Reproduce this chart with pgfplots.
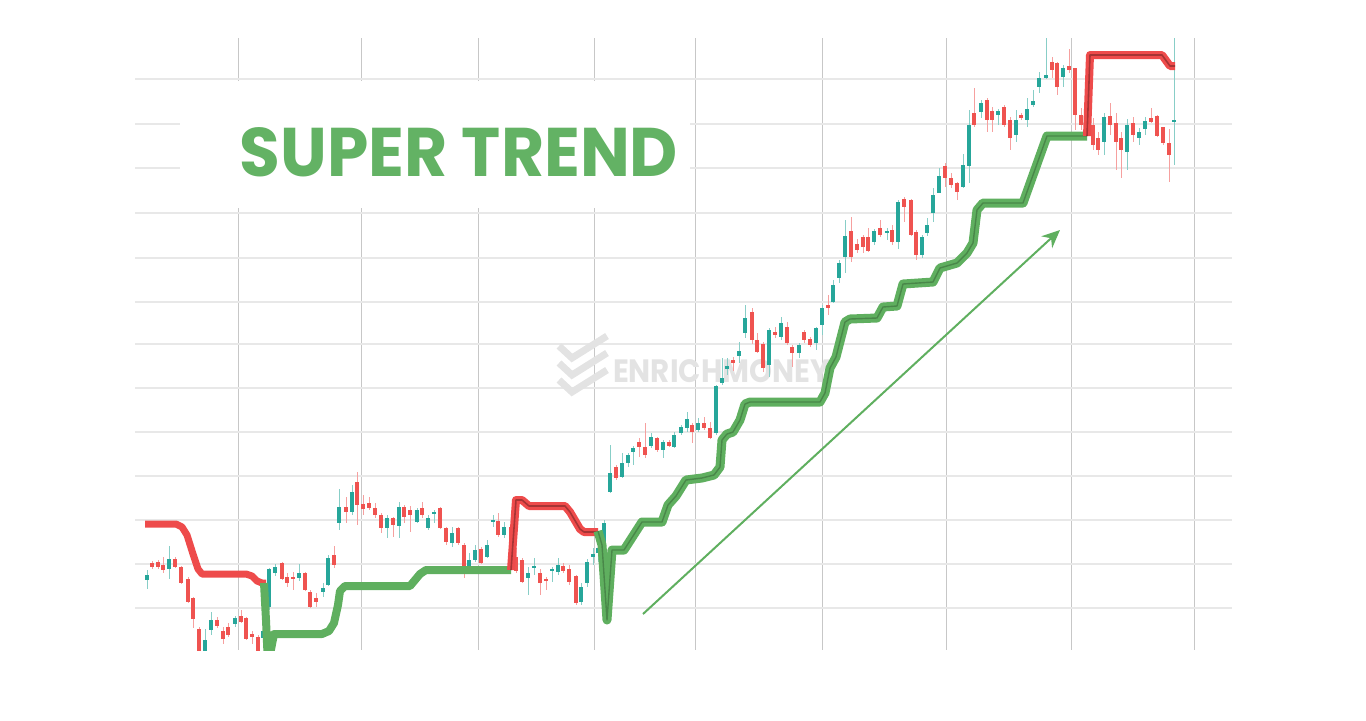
\documentclass[border=0pt]{standalone}
\usepackage{pgfplots}
\pgfplotsset{compat=1.18}
\usepackage{pgfplotstable}
\usepackage{graphicx}
\usepackage{fontspec}
\setmainfont{Poppins}
\usetikzlibrary{arrows.meta}
\definecolor{candleG}{HTML}{26A69A}
\definecolor{candleR}{HTML}{EF5350}
\definecolor{stRed}{HTML}{EE4B4B}
\definecolor{stGreen}{HTML}{5FAF5F}
\definecolor{titleG}{HTML}{63B264}

% x, body top, body bottom, wick top, wick bottom (pixel rows, top = high price)
\pgfplotstableread{
x bt bb wt wb
147 575 580 570 589
169 559 569 546 579
205 640 652 629 655
211 620 630 612 635
235 618 624 616 627
263 631 638 627 640
269 569 607 568 610
275 567 573 564 576
299 573 578 564 581
323 588 592 583 597
328 558 585 555 586
339 507 523 489 530
352 492 512 485 515
387 518 528 515 538
399 507 526 502 538
417 510 522 508 523
428 518 528 515 530
434 512 514 510 523
452 533 543 527 547
469 560 566 553 567
475 550 560 545 562
487 545 557 540 558
493 520 522 515 527
504 527 535 522 538
528 573 578 567 595
534 566 568 558 575
552 569 571 567 582
558 565 572 558 575
581 587 602 583 605
587 562 583 559 587
593 554 557 548 565
598 548 553 540 562
604 523 555 520 557
610 473 492 445 493
622 463 477 453 478
628 455 463 453 467
633 448 452 446 465
651 437 446 433 448
663 442 450 440 458
674 435 447 432 448
681 427 433 425 435
687 419 428 412 432
698 423 430 418 432
716 386 433 385 435
722 378 383 358 385
727 366 369 358 375
739 351 356 342 363
745 318 333 305 338
769 330 365 328 377
781 323 337 317 340
799 345 353 343 358
816 328 343 327 350
822 308 325 305 335
833 285 302 280 303
839 263 278 260 283
845 236 257 220 273
874 231 242 229 245
887 231 233 228 240
898 202 242 200 249
922 237 255 235 258
927 225 233 218 236
933 195 213 188 222
939 176 193 168 193
963 165 187 154 188
969 125 166 110 183
981 103 112 100 118
998 111 115 109 125
1016 120 135 110 142
1027 109 120 98 127
1033 101 105 90 107
1039 78 87 72 93
1046 75 78 37 79
1063 68 77 65 87
1104 117 142 113 155
1127 125 152 119 170
1139 132 138 128 145
1145 121 129 117 135
1174 120 122 37 165
}\greenC

\pgfplotstableread{
x bt bb wt wb
152 563 567 561 569
158 562 567 560 569
163 565 570 557 573
175 559 567 557 568
181 567 583 566 584
188 579 602 577 603
193 598 619 597 628
199 629 655 627 655
217 620 626 617 628
223 631 639 627 644
228 627 635 623 637
241 616 622 610 623
246 618 639 617 640
252 634 637 631 644
258 637 655 635 655
282 563 579 562 580
287 577 583 573 587
293 577 578.5 572 590
305 573 590 572 591
310 592 607 590 608
316 598 602 593 607
334 555 565 546 568
346 507 512 497 523
357 482 505 472 525
363 504 509 495 515
369 503 508 497 510
375 508 515 503 518
381 515 528 513 533
393 518 525 517 537
404 507 517 505 523
410 510 515 506 532
422 508 515 502 518
440 508 528 507 529
446 528 542 527 545
458 528 543 527 545
464 545 567 543 578
481 549 563 547 564
498 521 535 513 537
511 527 563 525 567
516 557 571 548 573
522 560 582 558 583
540 573 583 569 595
546 579 580.5 577 590
563 566 571 563 573
569 569 582 565 585
576 576 603 575 605
616 467 478 465 480
639 442 447 438 457
645 447 455 423 458
657 438 450 437 452
669 442 446 440 447
692 425 432 423 443
704 423 428 417 430
710 428 438 422 439
733 360 363 357 371
752 312 340 308 344
757 340 352 333 353
763 344 368 342 372
775 332 335 327 338
787 327 343 322 345
792 347 353 345 367
804 332 340 330 343
810 339 345 337 347
828 305 308 295 315
851 231 257 217 262
857 244 250 239 253
863 237 247 235 253
868 237 251 228 252
880 228 235 220 237
892 230 242 225 245
904 199 207 197 222
911 200 235 199 236
916 232 255 230 260
945 166 178 163 187
951 178 185 173 188
957 183 192 182 200
974 113 125 88 127
987 100 120 98 132
992 111 120 107 132
1004 107 125 105 127
1010 120 138 117 150
1021 115 118 113 120
1052 62 70 57 78
1057 63 87 62 95
1069 66 70 49 73
1075 68 115 68 130
1081 115 125 108 130
1087 109 134 107 135
1093 125 145 118 150
1098 138 150 132 155
1110 116 125 103 135
1116 123 142 113 170
1121 138 150 132 178
1133 123 135 117 142
1151 118 122 108 123
1157 116 136 115 137
1163 127 143 127 145
1169 143 155 129 182
}\redC

\begin{document}
\begin{tikzpicture}
\begin{axis}[
  width=548.5pt, height=306pt, scale only axis,
  xmin=135, xmax=1232, ymin=38, ymax=650, y dir=reverse,
  xtick={238,361,478,594,695,822,946,1071,1194},
  ytick={79,124,168,213,258,302,344,388,432,476,520,564,608},
  xticklabels={}, yticklabels={},
  grid=major,
  x grid style={black!22, line width=0.5pt},
  y grid style={black!9, line width=1pt},
  axis line style={draw=none},
  major tick length=0pt,
]
% title panel
\fill[white] (axis cs:180,81) rectangle (axis cs:690,208);
\node[anchor=center, text=titleG, inner sep=0pt] at (axis cs:459,152.5)
  {\resizebox{219pt}{24.5pt}{\bfseries SUPER TREND}};
% watermark
\draw[black!11, line width=3.5pt] (axis cs:559,346) -- (axis cs:572,358) -- (axis cs:607,336);
\draw[black!11, line width=3.5pt] (axis cs:559,363) -- (axis cs:572,375) -- (axis cs:607,353);
\draw[black!11, line width=3.5pt] (axis cs:559,380) -- (axis cs:572,392) -- (axis cs:607,370);
\node[anchor=center, text=black!11, inner sep=0pt] at (axis cs:721.5,371.5)
  {\resizebox{108.5pt}{11.5pt}{\bfseries ENRICHMONEY}};

% wicks
\addplot[draw=none, forget plot, error bars/.cd, y dir=both, y explicit, error mark=none,
  error bar style={draw=candleG!55, line width=0.5pt}]
  table[x=x, y expr={(\thisrow{wt}+\thisrow{wb})/2}, y error expr={(\thisrow{wb}-\thisrow{wt})/2}] {\greenC};
\addplot[draw=none, forget plot, error bars/.cd, y dir=both, y explicit, error mark=none,
  error bar style={draw=candleR!55, line width=0.5pt}]
  table[x=x, y expr={(\thisrow{wt}+\thisrow{wb})/2}, y error expr={(\thisrow{wb}-\thisrow{wt})/2}] {\redC};
% bodies
\addplot[draw=none, forget plot, error bars/.cd, y dir=both, y explicit, error mark=none,
  error bar style={draw=candleG, line width=1.8pt}]
  table[x=x, y expr={(\thisrow{bt}+\thisrow{bb})/2}, y error expr={(\thisrow{bb}-\thisrow{bt})/2}] {\greenC};
\addplot[draw=none, forget plot, error bars/.cd, y dir=both, y explicit, error mark=none,
  error bar style={draw=candleR, line width=1.8pt}]
  table[x=x, y expr={(\thisrow{bt}+\thisrow{bb})/2}, y error expr={(\thisrow{bb}-\thisrow{bt})/2}] {\redC};

% super trend
\addplot[stRed, line width=3.5pt, line join=round] coordinates {
(145,524) (176,524) (182,527) (187,535) (193,554) (198,569) (202,574) (246,574) (252,576) (257,581) (262,583) (266,583)};
\addplot[stGreen, line width=4pt, line join=round] coordinates {
(264,583) (266,620) (268,665) (274,634) (322,634) (329,631) (334,623) (338,605) (340,591) (345,586) (410,586) (415,580) (420,574) (426,570) (511,570)};
\addplot[stRed, line width=4pt, line join=round] coordinates {
(511,570) (516,500) (522,500) (529,506) (565,506) (570,512) (580,529) (584,532) (598,532)};
\addplot[black!60!stRed, opacity=0.5, line width=0.8pt, line join=round] coordinates {
(511,570) (516,500) (522,500) (529,506) (565,506) (570,512) (580,529) (584,532) (598,532)};
\addplot[stGreen, line width=4.5pt, line join=round] coordinates {
(598,531) (602,545) (607,620) (612,550) (624,550) (642,522) (662,522) (668,505) (676,496) (686,480) (702,478) (714,475) (720,467) (722,440) (727,434) (733,432) (740,420) (745,404) (750,402) (820,402) (825,393) (830,368) (836,357) (845,322) (850,319) (877,318) (883,307) (897,306) (903,284) (933,282) (940,268) (957,263) (967,253) (973,243) (977,210) (983,203) (1023,203) (1047,136) (1087,136)};
\addplot[black!50!stGreen, opacity=0.45, line width=0.7pt, line join=round] coordinates {
(598,531) (602,545) (607,620) (612,550) (624,550) (642,522) (662,522) (668,505) (676,496) (686,480) (702,478) (714,475) (720,467) (722,440) (727,434) (733,432) (740,420) (745,404) (750,402) (820,402) (825,393) (830,368) (836,357) (845,322) (850,319) (877,318) (883,307) (897,306) (903,284) (933,282) (940,268) (957,263) (967,253) (973,243) (977,210) (983,203) (1023,203) (1047,136) (1087,136)};
\addplot[stRed, line width=4pt, line join=round] coordinates {
(1087,136) (1090,55) (1162,55) (1170,66) (1175,66)};
\addplot[black!60!stRed, opacity=0.5, line width=0.8pt, line join=round] coordinates {
(1087,136) (1090,55) (1162,55) (1170,66) (1175,66)};

% trend arrow
\draw[stGreen, line width=1pt, -{Stealth[length=9pt, width=8pt]}]
  (axis cs:643,614) -- (axis cs:1060,230);
\end{axis}
\path ([xshift=-67.5pt,yshift=-35pt]current axis.south west) rectangle ([xshift=67pt,yshift=19pt]current axis.north east);
\end{tikzpicture}
\end{document}
